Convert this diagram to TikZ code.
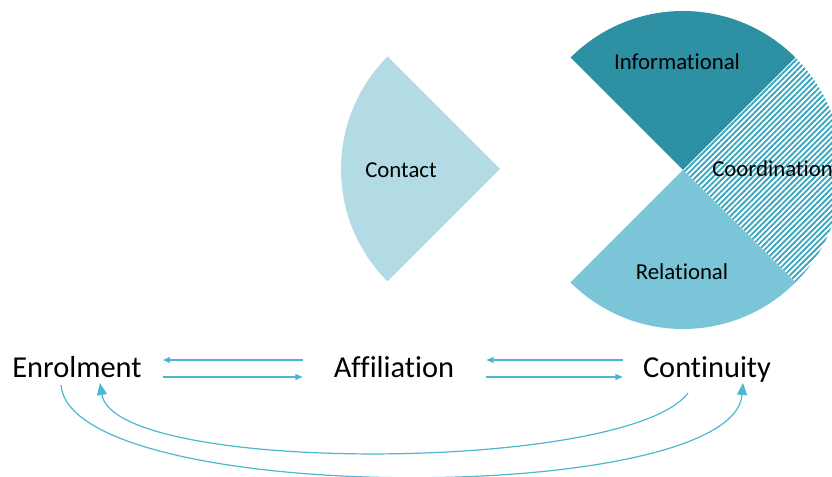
\documentclass[tikz,border=0pt]{standalone}
\usepackage{fontspec}
\setmainfont{Carlito}[Ligatures=NoCommon]
\usetikzlibrary{calc,arrows.meta,patterns.meta}
\definecolor{tealdark}{RGB}{46,144,163}
\definecolor{tealmid}{RGB}{122,198,216}
\definecolor{teallight}{RGB}{178,219,229}
\definecolor{tealhatch}{RGB}{58,166,190}
\definecolor{arrowblue}{RGB}{75,184,208}

\begin{document}
\begin{tikzpicture}[x=0.75pt,y=0.75pt,
	stage/.style={font=\fontsize{22.8}{27}\selectfont, inner sep=0pt, anchor=base},
	part/.style={font=\fontsize{17.1}{20}\selectfont, inner sep=0pt, anchor=base},
	flow/.style={arrowblue, line width=0.9pt, -{Triangle[length=5.5pt,width=4.5pt]}},
	loop/.style={arrowblue, line width=0.9pt, -{Triangle[length=9pt,width=7.5pt]}}]
	\useasboundingbox (0,0) rectangle (832,477);

	% the four sectors
	\fill[tealdark] (683,307) -- ++(45:159) arc (45:135:159) -- cycle;
	\fill[pattern={Lines[angle=45,distance=3pt,line width=1.4pt]},pattern color=tealhatch] (683,307) -- ++(-45:159) arc (-45:45:159) -- cycle;
	\fill[tealmid] (683,307) -- ++(225:159) arc (225:315:159) -- cycle;
	\fill[teallight] (500,308) -- ++(135:159) arc (135:225:159) -- cycle;

	\node[part] (info) at (677,407) {Informational};
	\node[part,anchor=base west] (coord) at (712,300) {Coordination};
	\node[part] (rel) at (682,197) {Relational};
	\node[part] (contact) at (401,299) {Contact};

	% stages
	\node[stage] (enrol) at (77,99) {Enrolment};
	\node[stage] (affil) at (394,99) {Affiliation};
	\node[stage] (contin) at (707,99) {Continuity};

	\draw[flow] ($(affil.base west)+(-31,18)$) -- ($(enrol.base east)+(21,18)$);
	\draw[flow] ($(enrol.base east)+(21,1)$) -- ($(affil.base west)+(-31,1)$);
	\draw[flow] ($(contin.base west)+(-20,18)$) -- ($(affil.base east)+(32,18)$);
	\draw[flow] ($(affil.base east)+(32,1)$) -- ($(contin.base west)+(-20,1)$);

	\draw[loop] ($(contin.base)+(-19,-15)$) .. controls +(-60,-80) and +(15,-92) .. ($(enrol.base)+(23,-5)$);
	\draw[loop] ($(enrol.base)+(-16,-7)$) .. controls +(10,-122) and +(-10,-124) .. ($(contin.base)+(36,-5)$);
\end{tikzpicture}
\end{document}
